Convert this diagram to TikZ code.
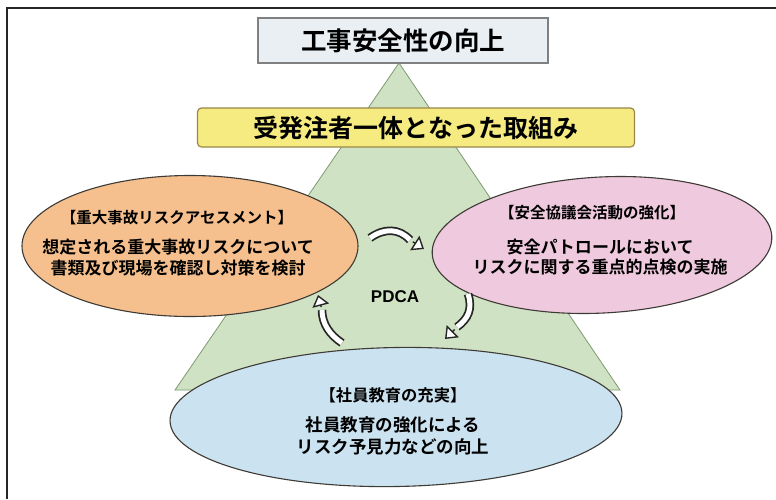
\documentclass[tikz,border=0pt]{standalone}
\usepackage{fontspec}
\setmainfont{Noto Sans CJK JP}[BoldFont={* Bold}]
\newfontfamily\latinf{Liberation Sans}
\usetikzlibrary{shapes.geometric,arrows.meta,calc}
\definecolor{trigreen}{HTML}{CFE3C4}
\definecolor{triedge}{HTML}{7E9A70}
\definecolor{orangefill}{HTML}{F6C08E}
\definecolor{pinkfill}{HTML}{EFC9DD}
\definecolor{bluefill}{HTML}{CBE3F0}
\definecolor{topfill}{HTML}{E9EFF3}
\definecolor{yellowfill}{HTML}{F5EB80}
\definecolor{yellowedge}{HTML}{9A8748}
\definecolor{ellipseedge}{HTML}{3E3A36}
\tikzset{
  topbox/.style={draw=black!50, line width=1.2pt, fill=topfill, inner sep=0pt},
  yellowbox/.style={draw=yellowedge, line width=1.2pt, fill=yellowfill, rounded corners=4pt, inner sep=0pt},
  oval/.style={ellipse, draw=ellipseedge, line width=1.1pt, inner sep=0pt},
  bigtitle/.style={font=\fontsize{25.5}{30}\selectfont\bfseries},
  ovaltitle/.style={font=\fontsize{15.5}{19}\selectfont\bfseries, inner sep=0pt},
  ovalbody/.style={font=\fontsize{17}{20.5}\selectfont\bfseries, align=center, inner sep=0pt},
  arrowbodyout/.style={line width=8.5pt, black!85},
  arrowbodyin/.style={line width=5pt, white},
  arrowhead/.style={line width=1.4pt, black!85, -{Triangle[fill=white, length=11pt, width=17pt]}},
}
\begin{document}
\begin{tikzpicture}[x=1pt,y=-1pt]
\useasboundingbox (0,0) rectangle (776,499);
\fill[white] (0,0) rectangle (776,499);
% frame
\draw[line width=2pt, black!85] (7,499) -- (7,8) -- (776,8);
% triangle
\coordinate (apex) at (399,63);
\coordinate (bl) at (175,390);
\coordinate (br) at (620,390);
\draw[fill=trigreen, draw=triedge, line width=0.8pt] (apex) -- (bl) -- (br) -- cycle;
% top box
\node[topbox, minimum width=290pt, minimum height=45pt] (goal) at (403,40.5) {};
\node[bigtitle] (goaltext) at (goal.center) {工事安全性の向上};
% yellow box
\node[yellowbox, minimum width=437pt, minimum height=39pt] (joint) at (416,127.5) {};
\node[bigtitle, font=\fontsize{25}{30}\selectfont\bfseries] (jointtext) at (joint.center) {受発注者一体となった取組み};
% ellipses
\node[oval, fill=orangefill, minimum width=336pt, minimum height=141pt] (risk) at (190,246) {};
\node[oval, fill=pinkfill, minimum width=340pt, minimum height=136pt, rotate=3] (council) at (602,245) {};
\node[oval, fill=bluefill, minimum width=452pt, minimum height=139pt, rotate=1] (edu) at (396,417) {};
% texts
\node[ovaltitle] (risktitle) at (177,218) {【重大事故リスクアセスメント】};
\node[ovalbody] (riskbody) at (178,257.5) {想定される重大事故リスクについて\\書類及び現場を確認し対策を検討};
\node[ovaltitle] (counciltitle) at (592,213) {【安全協議会活動の強化】};
\node[ovalbody] (councilbody) at (600,257) {安全パトロールにおいて\\リスクに関する重点的点検の実施};
\node[ovaltitle, font=\fontsize{16.3}{19}\selectfont\bfseries] (edutitle) at (393,395) {【社員教育の充実】};
\node[ovalbody, font=\fontsize{17.5}{22}\selectfont\bfseries] (edubody) at (393,436) {社員教育の強化による\\リスク予見力などの向上};
\node[font=\latinf\fontsize{17}{20}\selectfont\bfseries] (pdca) at (395,297) {PDCA};
% cycle arrows
\coordinate (a1s) at (370,238);
\coordinate (a1n) at (410,240);
\coordinate (a1t) at (424,249);
\draw[arrowbodyout] (a1s) .. controls (384,228) and (399,228) .. (a1n);
\draw[arrowbodyin] (a1s) .. controls (384,228) and (399,228) .. (a1n);
\draw[arrowhead] ($(a1n)!0.2!(a1t)$) -- (a1t);
\coordinate (a2s) at (468,294);
\coordinate (a2n) at (457,327);
\coordinate (a2t) at (445,339);
\draw[arrowbodyout] (a2s) .. controls (473,309) and (468,319) .. (a2n);
\draw[arrowbodyin] (a2s) .. controls (473,309) and (468,319) .. (a2n);
\draw[arrowhead] ($(a2n)!0.2!(a2t)$) -- (a2t);
\coordinate (a3s) at (342,343);
\coordinate (a3n) at (322,310);
\coordinate (a3t) at (318,295);
\draw[arrowbodyout] (a3s) .. controls (330,335) and (322,324) .. (a3n);
\draw[arrowbodyin] (a3s) .. controls (330,335) and (322,324) .. (a3n);
\draw[arrowhead] ($(a3n)!0.2!(a3t)$) -- (a3t);
\end{tikzpicture}
\end{document}
